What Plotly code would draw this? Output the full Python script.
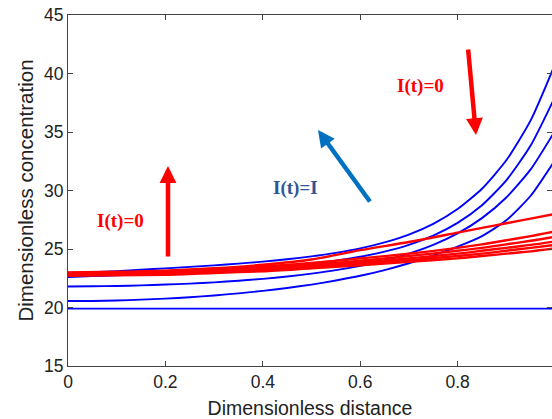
import plotly.graph_objects as go

# x samples (dimensionless distance)
x_blue = [0, 0.05, 0.1, 0.15, 0.2, 0.25, 0.3, 0.35, 0.4, 0.45, 0.5,
          0.55, 0.6, 0.65, 0.7, 0.75, 0.8, 0.85, 0.9, 0.95, 1.0]
x_red = [0, 0.1, 0.2, 0.3, 0.4, 0.5, 0.6, 0.7, 0.8, 0.85, 0.9, 0.95, 1.0]

# charging profiles, I(t)=I (blue)
blue_0 = [19.9] * len(x_blue)
blue_1 = [20.55, 20.56, 20.60, 20.67, 20.76, 20.88, 21.03, 21.21, 21.42, 21.67, 21.96,
          22.31, 22.71, 23.20, 23.78, 24.45, 25.2, 26.1, 27.45, 29.55, 32.6]
blue_2 = [21.8, 21.81, 21.84, 21.89, 21.96, 22.04, 22.15, 22.29, 22.45, 22.65, 22.90,
          23.19, 23.56, 24.02, 24.60, 25.35, 26.33, 27.64, 29.40, 31.80, 35.10]
blue_3 = [22.6, 22.68, 22.76, 22.85, 22.94, 23.04, 23.14, 23.26, 23.40, 23.56, 23.76,
          24.01, 24.34, 24.77, 25.35, 26.14, 27.23, 28.74, 30.87, 33.84, 38.0]
blue_4 = [22.9, 23.01, 23.11, 23.23, 23.34, 23.47, 23.60, 23.75, 23.92, 24.12, 24.37,
          24.67, 25.05, 25.56, 26.23, 27.15, 28.41, 30.15, 32.58, 35.99, 40.79]

# relaxation profiles, I(t)=0 (red)
red_1 = [23.0, 23.05, 23.15, 23.35, 23.65, 24.1, 24.9, 25.6, 26.4, 26.8, 27.2, 27.6, 28.0]
red_2 = [22.95, 23.0, 23.1, 23.25, 23.5, 23.8, 24.2, 24.6, 25.1, 25.4, 25.75, 26.1, 26.5]
red_3 = [22.9, 22.95, 23.05, 23.2, 23.4, 23.65, 24.0, 24.4, 24.85, 25.1, 25.4, 25.7, 26.05]
red_4 = [22.85, 22.9, 22.95, 23.1, 23.3, 23.55, 23.85, 24.2, 24.6, 24.85, 25.1, 25.35, 25.65]
red_5 = [22.8, 22.85, 22.9, 23.05, 23.2, 23.45, 23.75, 24.05, 24.4, 24.6, 24.85, 25.1, 25.35]
red_6 = [22.7, 22.75, 22.8, 22.95, 23.1, 23.35, 23.6, 23.9, 24.2, 24.4, 24.6, 24.8, 25.05]

blue_series = [blue_0, blue_1, blue_2, blue_3, blue_4]
red_series = [red_1, red_2, red_3, red_4, red_5, red_6]

x_ticks = [0, 0.2, 0.4, 0.6, 0.8, 1.0]
x_tick_labels = ["0", "0.2", "0.4", "0.6", "0.8", "1"]
y_ticks = [15, 20, 25, 30, 35, 40, 45]

fig = go.Figure()
for ys in blue_series:
    fig.add_trace(go.Scatter(x=x_blue, y=ys, mode="lines",
                             line=dict(color="#0000ff", width=1.9, shape="spline", smoothing=0.6),
                             showlegend=False, hoverinfo="skip"))
for ys in red_series:
    fig.add_trace(go.Scatter(x=x_red, y=ys, mode="lines",
                             line=dict(color="#ff0000", width=2.4, shape="spline", smoothing=0.8),
                             showlegend=False, hoverinfo="skip"))

L, T, B = 68, 15, 53
W, H = 552, 419
pw, ph = W - L, H - T - B


def px(xp):
    return (xp - L) / pw


def py(yp):
    return 1 - (yp - T) / ph


serif = "Liberation Serif, Times New Roman, serif"
sans = "Liberation Sans, Arial, sans-serif"
anns = [
    dict(text="<b>I(t)=0</b>", x=px(120), y=py(221), font=dict(family=serif, size=19, color="#ff0000")),
    dict(text="<b>I(t)=0</b>", x=px(420), y=py(86), font=dict(family=serif, size=19, color="#ff0000")),
    dict(text="<b>I(t)=I</b>", x=px(295), y=py(188), font=dict(family=serif, size=19, color="#2e5597")),
]
for a in anns:
    a.update(xref="x domain", yref="y domain", showarrow=False, xanchor="center", yanchor="middle")

arrows = [
    ((168, 258), (168, 166), "#ff0000"),
    ((468, 48), (476, 135), "#ff0000"),
    ((371, 203), (318, 130), "#0070c0"),
]
for (x0, y0), (x1, y1), c in arrows:
    anns.append(dict(x=px(x1), y=py(y1), ax=px(x0), ay=py(y0), xref="x domain", yref="y domain",
                     axref="x domain", ayref="y domain", showarrow=True, arrowhead=2, arrowsize=0.75,
                     arrowwidth=4.5, arrowcolor=c, text=""))

axis_common = dict(showline=True, linecolor="#444", linewidth=1, mirror="ticks", ticks="inside",
                   ticklen=5, tickcolor="#444", showgrid=False, zeroline=False,
                   tickfont=dict(family=sans, size=17.5, color="#222"))

fig.update_layout(
    width=W, height=H,
    margin=dict(l=L, r=0, t=T, b=B, autoexpand=False),
    plot_bgcolor="white", paper_bgcolor="white",
    xaxis=dict(range=[0, pw / 487], tickvals=x_ticks, ticktext=x_tick_labels,
               title=dict(text="Dimensionless distance", standoff=11,
                          font=dict(family=sans, size=19.5, color="#222")),
               **axis_common),
    yaxis=dict(range=[15, 45], tickvals=y_ticks,
               title=dict(text="Dimensionless concentration", standoff=4,
                          font=dict(family=sans, size=20.5, color="#222")),
               **axis_common),
    annotations=anns,
)

fig.write_html("out.html")
